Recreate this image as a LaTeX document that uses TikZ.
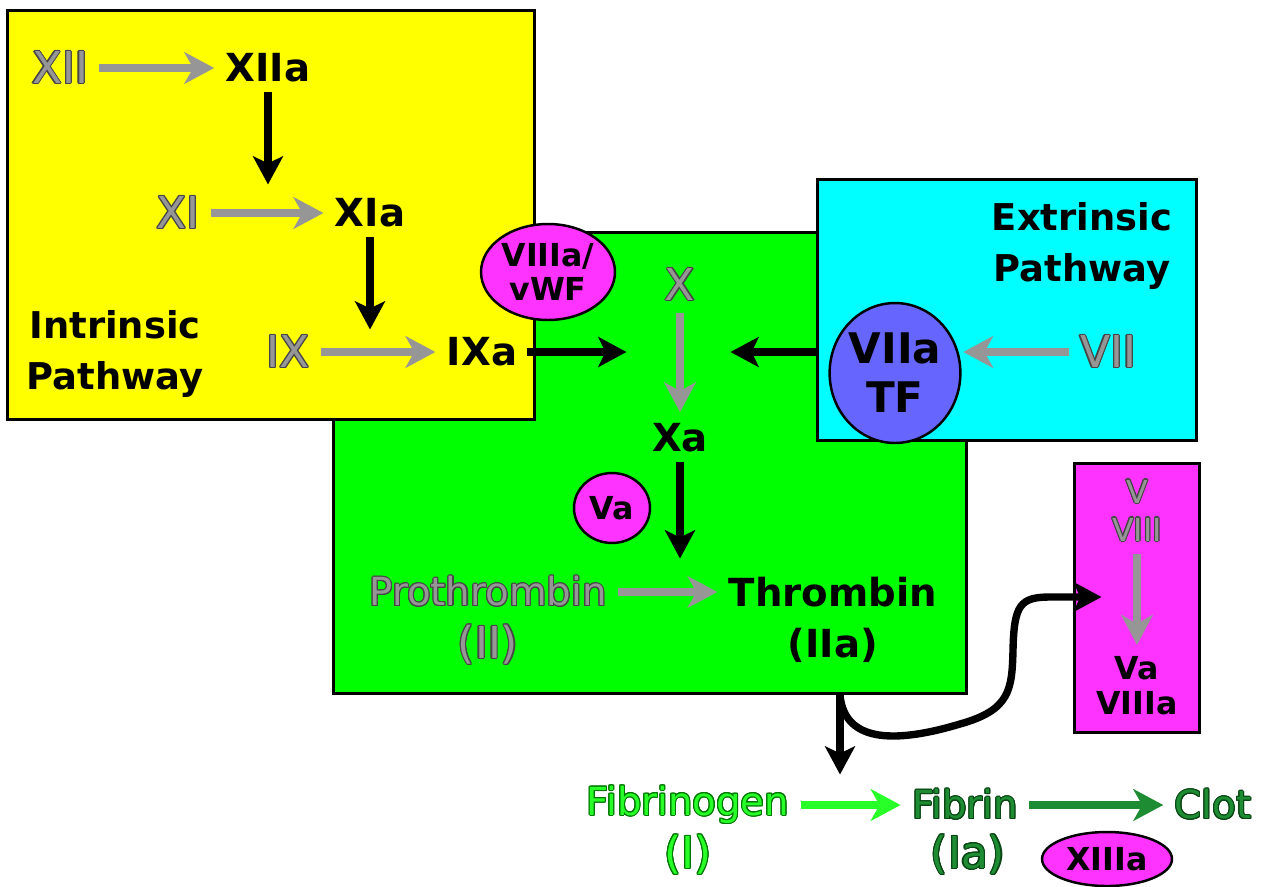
\documentclass[tikz,border=0pt]{standalone}
\usepackage{fontspec}
\setmainfont{DejaVu Sans}
\usepackage{contour}
\contourlength{0.6pt}
\usetikzlibrary{arrows.meta,positioning,shapes.geometric}
\definecolor{boxyellow}{RGB}{255,255,0}
\definecolor{boxgreen}{RGB}{0,255,0}
\definecolor{boxcyan}{RGB}{0,255,255}
\definecolor{blobpink}{RGB}{255,51,255}
\definecolor{blobblue}{RGB}{102,102,255}
\definecolor{factorgray}{RGB}{150,150,150}
\definecolor{outlinegray}{RGB}{70,70,70}
\definecolor{limegreen}{RGB}{40,255,40}
\definecolor{limeedge}{RGB}{0,120,0}
\definecolor{fibgreen}{RGB}{30,140,50}
\definecolor{fibedge}{RGB}{10,70,20}
\newcommand{\pale}[1]{\contour{outlinegray}{\textcolor{factorgray}{#1}}}
\newcommand{\lime}[1]{\contour{limeedge}{\textcolor{limegreen}{#1}}}
\newcommand{\fib}[1]{\contour{fibedge}{\textcolor{fibgreen}{#1}}}

\begin{document}
\begin{tikzpicture}[x=0.02cm,y=-0.02cm,every node/.style={font=\fontsize{22}{24}\selectfont},
panel/.style={draw,line width=1.7pt,inner sep=0pt},
blob/.style={ellipse,draw,line width=1.4pt,inner sep=0pt,fill=blobpink,align=center,font=\fontsize{18}{19}\selectfont\bfseries},
act/.style={font=\fontsize{22}{24}\selectfont\bfseries},
numeral/.style={font=\fontsize{25}{27}\selectfont},
title/.style={font=\fontsize{21}{29}\selectfont\bfseries,align=center},
blackarr/.style={-{Stealth[length=16pt,width=17pt,inset=4pt]},line width=4.2pt,shorten >=2pt,shorten <=2pt},
grayarr/.style={-{Stealth[length=17pt,width=18pt,inset=5pt]},line width=5pt,factorgray,shorten >=3pt,shorten <=3pt}]
\useasboundingbox[fill=white] (0,0) rectangle (1270,886);
\node[panel,fill=boxgreen,minimum width=12.68cm,minimum height=9.24cm] (common) at (650,463) {};
\node[panel,fill=boxyellow,minimum width=10.56cm,minimum height=8.2cm] (intbox) at (271,215) {};
\node[panel,fill=boxcyan,minimum width=7.6cm,minimum height=5.24cm] (extbox) at (1007,310) {};
\node[panel,fill=blobpink,minimum width=2.5cm,minimum height=5.4cm] (cofbox) at (1137,598) {};
\node[blob,minimum width=2.68cm,minimum height=1.92cm] (viiia) at (548,272) {VIIIa/\\vWF};
\node[blob,fill=blobblue,minimum width=2.4cm,minimum height=2.8cm,font=\fontsize{24}{28}\selectfont\bfseries] (viiatf) at (895,373) {VIIa\\TF};
\node[blob,minimum width=1.52cm,minimum height=1.4cm] (vaf) at (612,508) {Va};
\node[blob,minimum width=2.6cm,minimum height=1.08cm] (xiiia) at (1107,859) {XIIIa};

\node[title] (intr) at (115,354) {Intrinsic\\Pathway};
\node[title] (extr) at (1082,246) {Extrinsic\\Pathway};

\node[numeral] (xii) at (60,68) {\pale{XII}};
\node[act] (xiia) at (268,68) {XIIa};
\node[numeral] (xi) at (178,213) {\pale{XI}};
\node[act] (xia) at (370,213) {XIa};
\node[numeral] (ix) at (288,352) {\pale{IX}};
\node[act] (ixa) at (482,352) {IXa};
\node[numeral] (x) at (680,285) {\pale{X}};
\node[act] (xa) at (680,438) {Xa};
\node[numeral] (vii) at (1108,352) {\pale{VII}};
\node (prot) at (488,592) {\pale{Prothrombin}};
\node[numeral] (ii) at (488,645) {\pale{(II)}};
\node[act] (thr) at (833,592) {Thrombin};
\node[act] (iia) at (833,645) {(IIa)};
\node[font=\fontsize{18}{18}\selectfont] (v) at (1137,492) {\pale{V}};
\node[font=\fontsize{18}{18}\selectfont] (viii) at (1137,530) {\pale{VIII}};
\node[act,font=\fontsize{18}{18}\selectfont\bfseries] (va) at (1137,668) {Va};
\node[act,font=\fontsize{18}{18}\selectfont\bfseries] (viiiact) at (1137,703) {VIIIa};
\node (fbg) at (688,805) {\lime{Fibrinogen}};
\node[numeral] (i) at (688,855) {\lime{(I)}};
\node (fbn) at (965,805) {\fib{Fibrin}};
\node[numeral] (ia) at (968,855) {\fib{(Ia)}};
\node (clot) at (1213,805) {\fib{Clot}};

\coordinate (j1) at (268,188);
\coordinate (j2) at (370,333);
\coordinate (j3) at (630,352);
\coordinate (j4) at (727,352);
\coordinate (j5) at (680,562);
\coordinate (j6) at (840,778);
\coordinate (j7) at (1105,597);
\coordinate (j8) at (958,352);

\draw[grayarr] (xii) -- (xiia);
\draw[grayarr] (xi) -- (xia);
\draw[grayarr] (ix) -- (ixa);
\draw[grayarr] (x) -- (xa);
\draw[grayarr] (vii) -- (j8);
\draw[grayarr] (prot) -- (thr);
\draw[grayarr] (viii) -- (va);
\draw[grayarr,limegreen] (fbg) -- (fbn);
\draw[grayarr,fibgreen] (fbn) -- (clot);

\draw[blackarr] (xiia) -- (j1);
\draw[blackarr] (xia) -- (j2);
\draw[blackarr] (ixa) -- (j3);
\draw[blackarr,shorten <=0pt] (extbox.west |- j4) -- (j4);
\draw[blackarr] (xa) -- (j5);
\draw[blackarr,shorten <=0pt] (common.south -| j6) -- (j6);
\draw[blackarr,shorten <=0pt] (common.south -| j6) .. controls (845,745) and (900,742) .. (960,724)
  .. controls (1010,710) and (1012,690) .. (1013,650) .. controls (1014,605) and (1020,597) .. (1050,597) -- (j7);
\end{tikzpicture}
\end{document}
